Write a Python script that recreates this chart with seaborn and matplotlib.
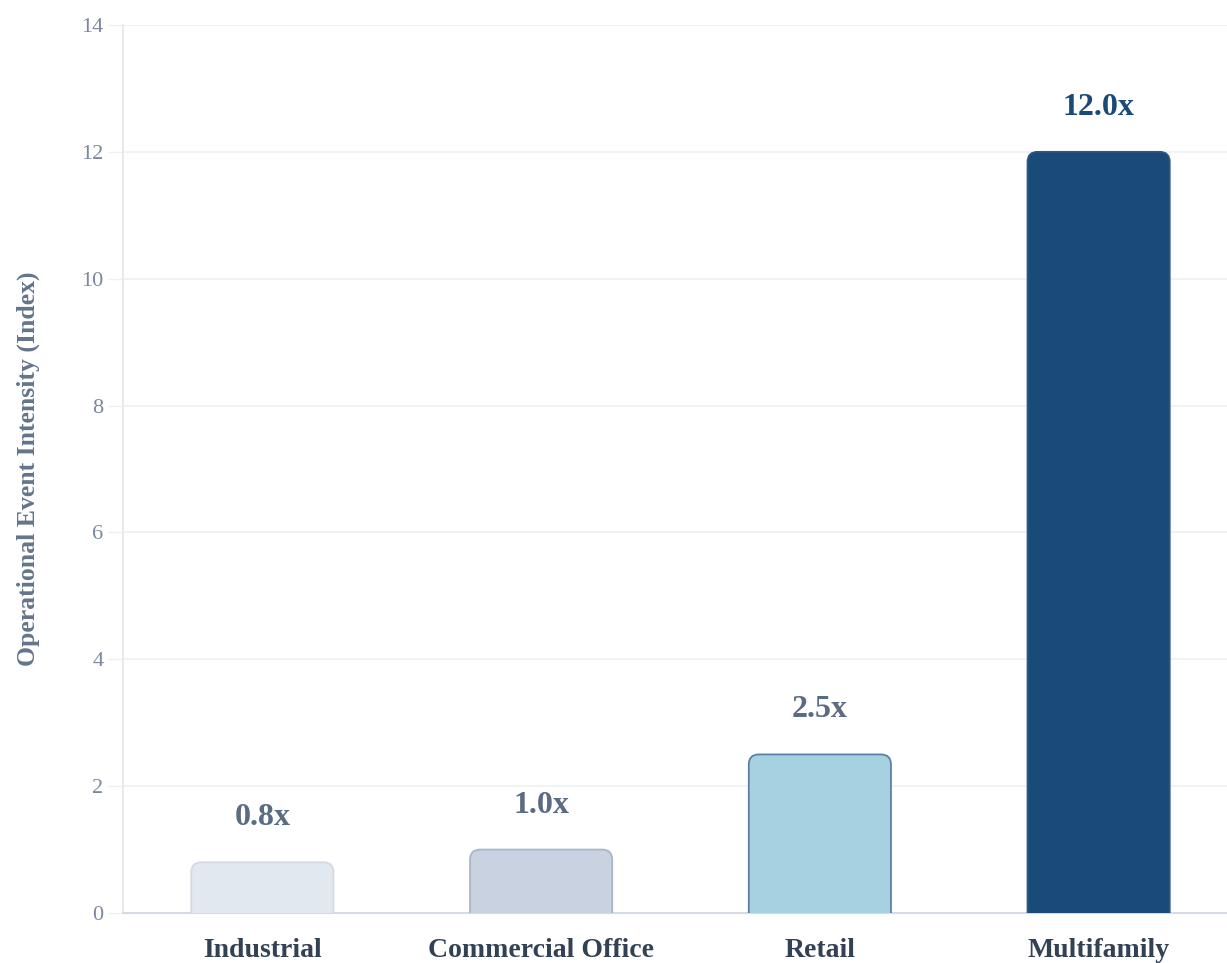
import matplotlib
matplotlib.use("Agg")
import matplotlib.pyplot as plt
import seaborn as sns
import pandas as pd
from matplotlib.patches import FancyBboxPatch

categories = ["Industrial", "Commercial Office", "Retail", "Multifamily"]
values = [0.8, 1.0, 2.5, 12.0]
labels = ["0.8x", "1.0x", "2.5x", "12.0x"]
fill_colors = ["#e2e8f0", "#c8d2e0", "#a5d1e1", "#1a4a78"]
edge_colors = ["#d3dae5", "#aab6c8", "#5d7fa6", "#2a5786"]
label_colors = ["#5b6b84", "#5b6b84", "#5b6b84", "#1a4a78"]
y_ticks = [0, 2, 4, 6, 8, 10, 12, 14]

sns.set_theme(style="white")
plt.rcParams["font.family"] = ["Liberation Serif", "DejaVu Serif"]

df = pd.DataFrame({"category": categories, "value": values})

fig = plt.figure(figsize=(12.27, 9.63), dpi=100)
ax = fig.add_axes([123 / 1227, 50 / 963, 1115 / 1227, 888 / 963])

sns.barplot(data=df, x="category", y="value", hue="category",
            palette=fill_colors, width=0.51, legend=False, ax=ax, zorder=3)

ax.set_ylim(0, 14)
ax.set_xlim(-0.5, 3.5)

# replace bars with rounded-top versions
px_per_x = 1115 / 4
px_per_y = 888 / 14
aspect = (1 / px_per_y) / (1 / px_per_x)
radius_px = 10
patches = list(ax.patches)
for i, p in enumerate(patches):
    x0, w, h = p.get_x(), p.get_width(), p.get_height()
    r = radius_px / px_per_x
    ext = 0.5
    fb = FancyBboxPatch((x0, -ext), w, h + ext,
                        boxstyle=f"round,pad=0,rounding_size={r}",
                        mutation_aspect=aspect,
                        facecolor=fill_colors[i], edgecolor=edge_colors[i],
                        linewidth=1.3, zorder=3)
    p.remove()
    ax.add_patch(fb)
    ax.annotate(labels[i], xy=(x0 + w / 2, h), xytext=(0, 32),
                textcoords="offset points", ha="center", va="center",
                fontsize=23, fontweight="bold", color=label_colors[i], zorder=4)

ax.set_yticks(y_ticks)
ax.set_yticklabels([str(t) for t in y_ticks])
ax.yaxis.grid(True, color="#eef1f4", linewidth=1.2, zorder=0)
ax.set_axisbelow(True)

ax.tick_params(axis="y", length=11, width=1, color="#eef1f4", pad=3,
               labelsize=16, labelcolor="#7a889f", left=True)
ax.tick_params(axis="x", length=0, pad=18, labelsize=20, labelcolor="#334155")
for lab in ax.get_xticklabels():
    lab.set_fontweight("bold")

ax.set_xlabel("")
ax.set_ylabel("Operational Event Intensity (Index)", fontsize=18.5,
              fontweight="bold", color="#64748b", labelpad=30)

for s in ["top", "right"]:
    ax.spines[s].set_visible(False)
ax.spines["left"].set_color("#e2e6ec")
ax.spines["left"].set_linewidth(1.2)
ax.spines["bottom"].set_color("#d5dbe3")
ax.spines["bottom"].set_linewidth(1.5)

fig.savefig("out.png", dpi=100, facecolor="white")
